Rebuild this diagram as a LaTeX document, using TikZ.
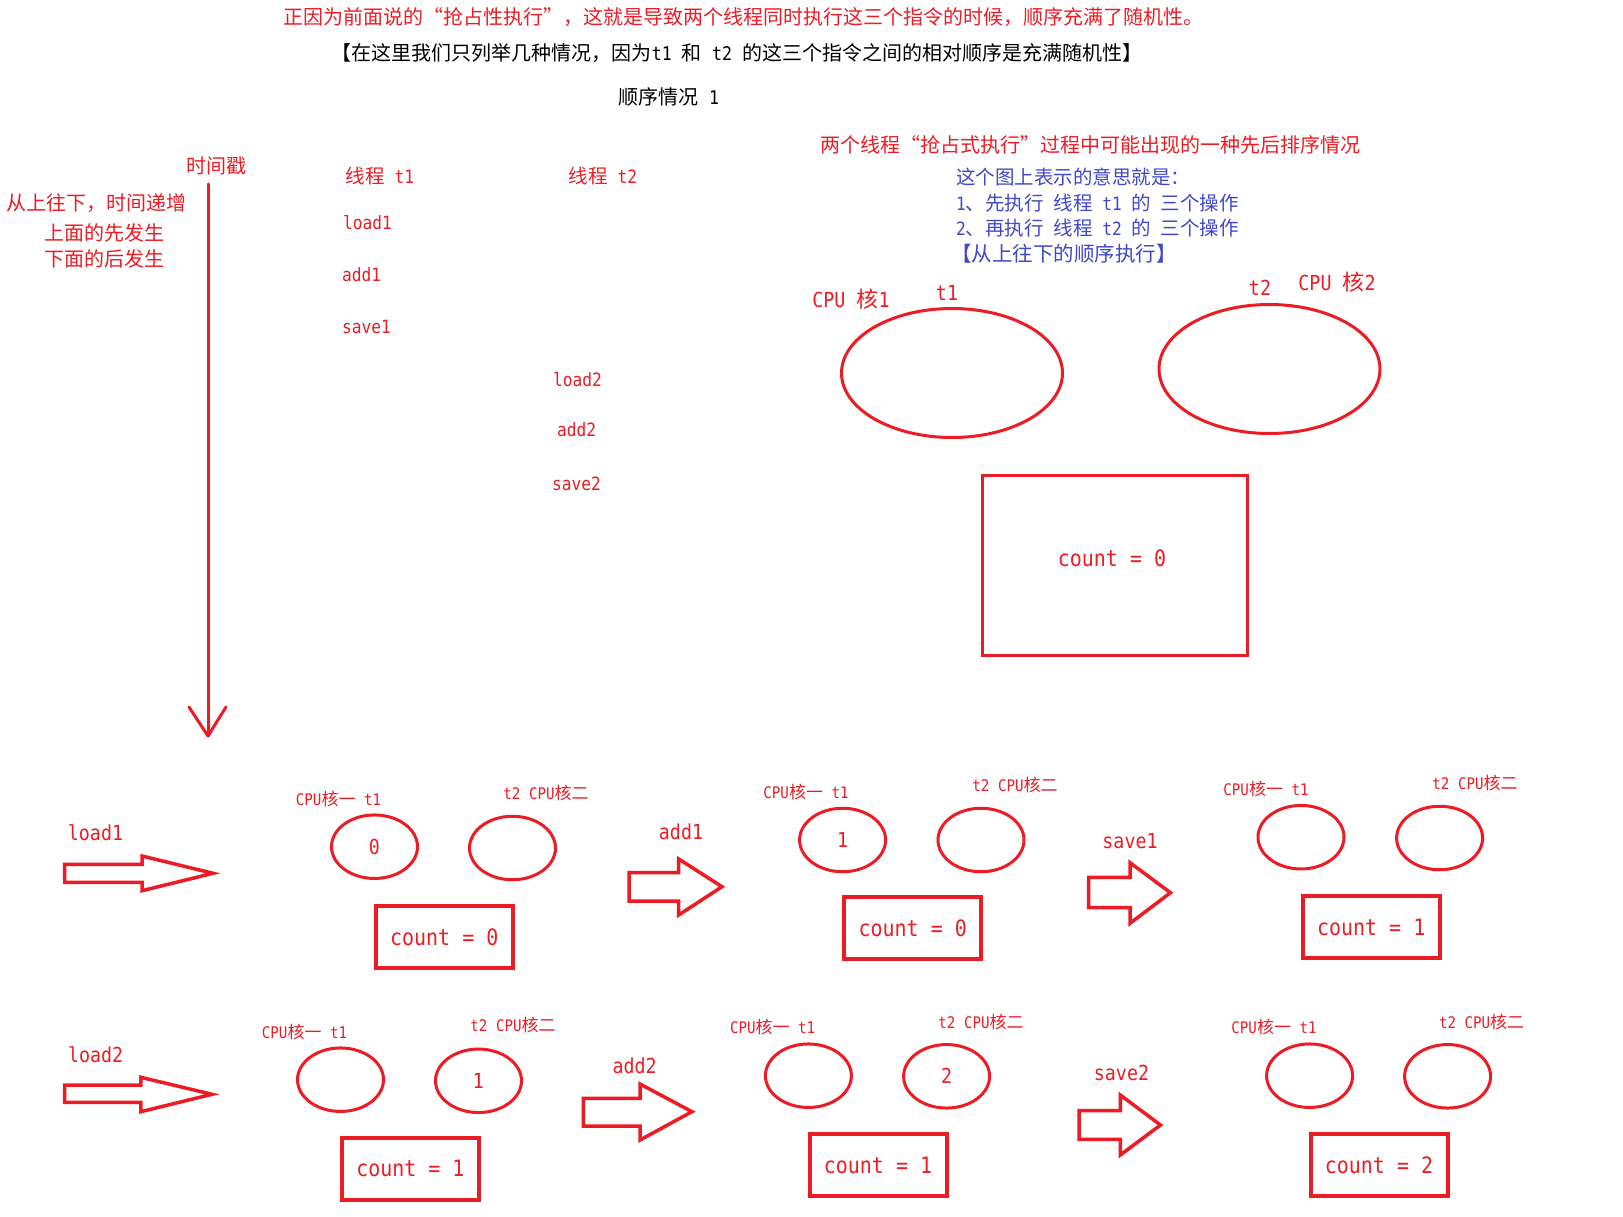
\documentclass[tikz,border=0pt]{standalone}
\usepackage{fontspec}
\setmainfont{Noto Sans CJK SC}
\newfontfamily\monof[Scale=0.94,FakeStretch=0.885]{DejaVu Sans Mono}
\usetikzlibrary{shapes.geometric}
\definecolor{pred}{HTML}{ED1C24}
\definecolor{pblue}{HTML}{3F48CC}
\newcommand\m[1]{{\monof #1}}
\newcommand\fsz[1]{\fontsize{#1}{#1}\selectfont}
\tikzset{
  every node/.style={inner sep=0pt, outer sep=0pt},
  rtxt/.style={text=pred, font=\fsz{20}},
  ktxt/.style={text=black, font=\fsz{20}},
  btxt/.style={text=pblue, font=\fsz{19.5}, anchor=west},
  optxt/.style={text=pred, font=\fsz{19.5}, anchor=west},
  cpulbl/.style={text=pred, font=\fsz{22}},
  smlbl/.style={text=pred, font=\fsz{17}},
  oplbl/.style={text=pred, font=\fsz{22}},
  bigcore/.style={draw=pred, line width=3pt, ellipse, minimum width=221pt, minimum height=129pt},
  core/.style={draw=pred, line width=3pt, ellipse, minimum width=86pt, minimum height=63.5pt, text=pred, font=\fsz{22}},
  mem/.style={draw=pred, line width=4pt, rectangle, minimum width=137pt, minimum height=62pt, text=pred, font=\fsz{24}},
  bigmem/.style={draw=pred, line width=3pt, rectangle, minimum width=265pt, minimum height=180pt},
  blk/.style={draw=pred, line width=3.5pt, line join=miter},
  timeline/.style={draw=pred, line width=3pt, line cap=round, line join=round}
}
\begin{document}
\begin{tikzpicture}[x=1pt,y=-1pt]
\useasboundingbox (0,0) rectangle (1623,1217);
\fill[white] (0,0) rectangle (1623,1217);

% header texts
\node[rtxt] (title1) at (743,17) {正因为前面说的“抢占性执行”，这就是导致两个线程同时执行这三个指令的时候，顺序充满了随机性。};
\node[ktxt] (title2) at (737,53) {【在这里我们只列举几种情况，因为\m{t1~}和\m{~t2~}的这三个指令之间的相对顺序是充满随机性】};
\node[ktxt] (title3) at (669,97) {顺序情况\m{~1}};

% left: time axis
\node[rtxt] (tstamp) at (216,166) {时间戳};
\node[rtxt] (note1) at (96.5,203) {从上往下，时间递增};
\node[rtxt] (note2) at (104.5,232.5) {上面的先发生};
\node[rtxt] (note3) at (104.5,258.5) {下面的后发生};
\coordinate (tl0) at (208,184);
\coordinate (tl1) at (208,736);
\coordinate (hl) at (189,707);
\coordinate (hr) at (226,707);
\draw[timeline] (tl0) -- (tl1);
\draw[timeline] (hl) -- (tl1) -- (hr);

% thread columns
\node[rtxt, font=\fsz{19.5}] (th1) at (380,176) {线程\m{~t1}};
\node[rtxt, font=\fsz{19.5}] (th2) at (603,176) {线程\m{~t2}};
\node[optxt] (l1) at (343,222.7) {\m{load1}};
\node[optxt] (a1) at (342,275) {\m{add1}};
\node[optxt] (s1) at (342,326.7) {\m{save1}};
\node[optxt] (l2) at (553,379.3) {\m{load2}};
\node[optxt] (a2) at (557,429.3) {\m{add2}};
\node[optxt] (s2) at (552,484.3) {\m{save2}};

% top right
\node[rtxt] (title4) at (1090,145) {两个线程“抢占式执行”过程中可能出现的一种先后排序情况};
\node[btxt] (b1) at (956,176.7) {这个图上表示的意思就是：};
\node[btxt] (b2) at (956,202.7) {\m{1}、先执行\m{~}线程\m{~t1~}的\m{~}三个操作};
\node[btxt] (b3) at (956,228.3) {\m{2}、再执行\m{~}线程\m{~t2~}的\m{~}三个操作};
\node[btxt, font=\fsz{20.5}] (b4) at (951,254) {【从上往下的顺序执行】};
\node[cpulbl] (cpu1) at (851,299) {\m{CPU~}核\m{1}};
\node[cpulbl] (t1lbl) at (947,293) {\m{t1}};
\node[cpulbl] (t2lbl) at (1260,287.5) {\m{t2}};
\node[cpulbl] (cpu2) at (1337,282) {\m{CPU~}核\m{2}};
\node[bigcore] (core1) at (952,373) {};
\node[bigcore] (core2) at (1269.5,369) {};
\node[bigmem] (bigbox) at (1115,565.5) {};
\node[text=pred, font=\fsz{24}] (bigcount) at (1112,558) {\m{count~=~0}};

% ===== row 1 =====
\node[oplbl] (op1) at (95.5,832.7) {\m{load1}};
\draw[blk] (64.5,864.3) -- (142,864.3) -- (142,856) -- (213,873.3) -- (142,890.7) -- (142,882.3) -- (64.5,882.3) -- cycle;
\node[smlbl] (p1la) at (338.5,799) {\m{CPU}核一\m{~t1}};
\node[smlbl] (p1lb) at (546,793) {\m{t2~CPU}核二};
\node[core] (p1ca) at (374.5,846.7) {\m{0}};
\node[core] (p1cb) at (512.5,848) {};
\node[mem] (p1m) at (444.25,937) {\m{count~=~0}};

\node[oplbl] (op2) at (681,831.7) {\m{add1}};
\draw[blk] (629,872.7) -- (678.7,872.7) -- (678.7,859) -- (722,886.7) -- (678.7,915) -- (678.7,901) -- (629,901) -- cycle;
\node[smlbl] (p2la) at (806,791.7) {\m{CPU}核一\m{~t1}};
\node[smlbl] (p2lb) at (1015,785) {\m{t2~CPU}核二};
\node[core] (p2ca) at (842.6,840) {\m{1}};
\node[core] (p2cb) at (981,840) {};
\node[mem] (p2m) at (912.75,928.4) {\m{count~=~0}};

\node[oplbl] (op3) at (1130,841) {\m{save1}};
\draw[blk] (1088.7,877.3) -- (1130,877.3) -- (1130,862.7) -- (1170.5,892.7) -- (1130,923.3) -- (1130,907.7) -- (1088.7,907.7) -- cycle;
\node[smlbl] (p3la) at (1266,789.3) {\m{CPU}核一\m{~t1}};
\node[smlbl] (p3lb) at (1475,783.3) {\m{t2~CPU}核二};
\node[core] (p3ca) at (1301,837.2) {};
\node[core] (p3cb) at (1439.6,838) {};
\node[mem] (p3m) at (1371.2,927.2) {\m{count~=~1}};

% ===== row 2 =====
\node[oplbl] (op4) at (95.7,1055) {\m{load2}};
\draw[blk] (64.5,1085) -- (140.8,1085) -- (140.8,1077.3) -- (212,1094.3) -- (140.8,1111.7) -- (140.8,1102.3) -- (64.5,1102.3) -- cycle;
\node[smlbl] (p4la) at (304.5,1031.7) {\m{CPU}核一\m{~t1}};
\node[smlbl] (p4lb) at (513,1025) {\m{t2~CPU}核二};
\node[core] (p4ca) at (340.5,1079.7) {};
\node[core] (p4cb) at (478.5,1080.8) {\m{1}};
\node[mem] (p4m) at (410.35,1168.9) {\m{count~=~1}};

\node[oplbl] (op5) at (634.6,1065.7) {\m{add2}};
\draw[blk] (583.3,1098.3) -- (640,1098.3) -- (640,1084) -- (692,1111.7) -- (640,1140) -- (640,1126) -- (583.3,1126) -- cycle;
\node[smlbl] (p5la) at (772.6,1026.7) {\m{CPU}核一\m{~t1}};
\node[smlbl] (p5lb) at (981,1021.7) {\m{t2~CPU}核二};
\node[core] (p5ca) at (808.4,1075.7) {};
\node[core] (p5cb) at (946.6,1076.3) {\m{2}};
\node[mem] (p5m) at (878,1165.3) {\m{count~=~1}};

\node[oplbl] (op6) at (1121.5,1073.3) {\m{save2}};
\draw[blk] (1079,1110.7) -- (1120.3,1110.7) -- (1120.3,1095) -- (1160.5,1125) -- (1120.3,1155) -- (1120.3,1139.3) -- (1079,1139.3) -- cycle;
\node[smlbl] (p6la) at (1274,1026.7) {\m{CPU}核一\m{~t1}};
\node[smlbl] (p6lb) at (1481.6,1021.7) {\m{t2~CPU}核二};
\node[core] (p6ca) at (1309.6,1075.7) {};
\node[core] (p6cb) at (1447.6,1076.3) {};
\node[mem] (p6m) at (1379,1165) {\m{count~=~2}};
\end{tikzpicture}
\end{document}
